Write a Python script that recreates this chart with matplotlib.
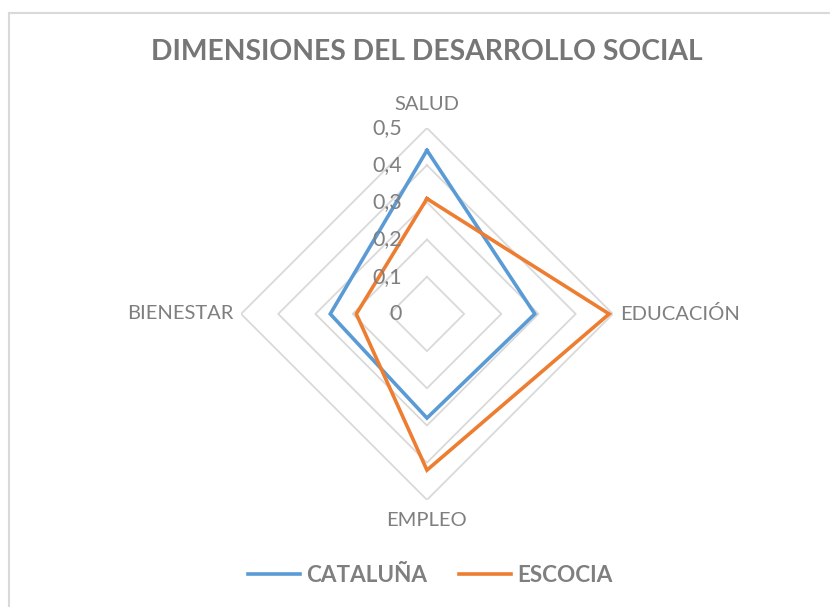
import numpy as np
import matplotlib.pyplot as plt
from matplotlib import transforms
from matplotlib.lines import Line2D

plt.rcParams['font.family'] = ['Lato', 'DejaVu Sans']

# Data
categories = ['SALUD', 'EDUCACIÓN', 'EMPLEO', 'BIENESTAR']
cataluna = [0.44, 0.29, 0.28, 0.26]
escocia = [0.31, 0.49, 0.42, 0.19]
levels = [0.1, 0.2, 0.3, 0.4, 0.5]
level_labels = ['0', '0,1', '0,2', '0,3', '0,4', '0,5']

blue = '#5b9bd5'
orange = '#ed7d31'
grid_col = '#d9d9d9'
text_col = '#7f7f7f'

fig = plt.figure(figsize=(8.3, 6.07), dpi=100)

# chart border (top and left edges visible, rest cropped)
fig.add_artist(Line2D([9 / 830, 1], [1 - 13 / 607, 1 - 13 / 607],
                      transform=fig.transFigure, color=grid_col, lw=1.5))
fig.add_artist(Line2D([9 / 830, 9 / 830], [0, 1 - 13 / 607],
                      transform=fig.transFigure, color=grid_col, lw=1.5))

ax = fig.add_axes([0.2904, 0.1763, 0.448, 0.613], projection='polar')
ax.set_theta_offset(np.pi / 2)
ax.set_theta_direction(-1)
ax.set_ylim(0, 0.5)
ax.grid(False)
ax.spines['polar'].set_visible(False)
ax.set_xticks([])
ax.set_yticks([])
ax.patch.set_alpha(0)

theta = np.linspace(0, 2 * np.pi, len(categories), endpoint=False)
theta_c = np.append(theta, theta[0])

# polygon grid
for lv in levels:
    ax.plot(theta_c, [lv] * len(theta_c), color=grid_col, lw=1.3, zorder=1)

ax.plot(theta_c, cataluna + cataluna[:1], color=blue, lw=2.6, zorder=3,
        solid_joinstyle='miter')
ax.plot(theta_c, escocia + escocia[:1], color=orange, lw=2.6, zorder=3,
        solid_joinstyle='miter')

# radial tick labels to the left of the vertical axis
off = transforms.offset_copy(ax.transData, fig=fig, x=-25, y=0, units='dots')
for lv, lab in zip([0] + levels, level_labels):
    ax.text(0, lv, lab, transform=off, ha='right', va='center',
            fontsize=15.5, color=text_col)

# category labels
ax.text(theta[0], 0.562, categories[0], ha='center', va='center',
        fontsize=14.5, color=text_col)
ax.text(theta[1], 0.519, categories[1], ha='left', va='center',
        fontsize=14.5, color=text_col)
ax.text(theta[2], 0.556, categories[2], ha='center', va='center',
        fontsize=14.5, color=text_col)
ax.text(theta[3], 0.519, categories[3], ha='right', va='center',
        fontsize=14.5, color=text_col)

fig.text(427 / 830, 1 - 52 / 607, 'DIMENSIONES DEL DESARROLLO SOCIAL',
         ha='center', va='center', fontsize=20.3, fontweight='bold',
         color='#767676')

handles = [Line2D([], [], color=blue, lw=2.6), Line2D([], [], color=orange, lw=2.6)]
fig.legend(handles, ['CATALUÑA', 'ESCOCIA'], loc='center',
           bbox_to_anchor=(430 / 830, 1 - 575 / 607), ncol=2, frameon=False,
           handlelength=2.35, handletextpad=0.25, columnspacing=1.4,
           prop={'size': 16.2, 'weight': 'bold'}, labelcolor=text_col)

fig.savefig('out.png', dpi=100)
